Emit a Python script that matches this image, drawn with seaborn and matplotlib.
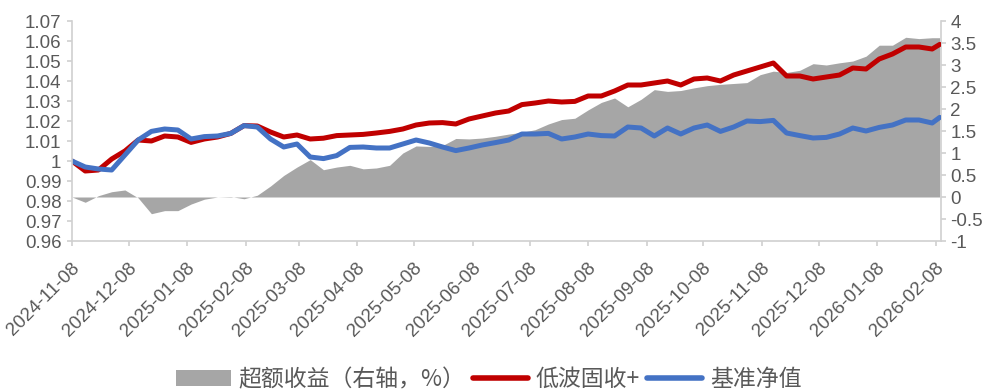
import matplotlib
matplotlib.use("Agg")
import matplotlib.pyplot as plt
import matplotlib.dates as mdates
from matplotlib.patches import Patch
from matplotlib.lines import Line2D
from matplotlib.ticker import FuncFormatter, MultipleLocator
from matplotlib.transforms import ScaledTranslation
import seaborn as sns
import pandas as pd

# ---------------- data ----------------
dates = list(pd.date_range("2024-11-08", periods=66, freq="7D")) + [pd.Timestamp("2026-02-10")]

low_vol = [1.000, 0.995, 0.9955, 1.001, 1.005, 1.0105, 1.010, 1.0125, 1.012, 1.0093,
           1.011, 1.012, 1.0138, 1.0177, 1.0175, 1.0145, 1.012, 1.013, 1.011, 1.0114,
           1.0127, 1.013, 1.0133, 1.014, 1.0148, 1.016, 1.018, 1.019, 1.0192, 1.0185,
           1.021, 1.0225, 1.024, 1.025, 1.0282, 1.029, 1.030, 1.0295, 1.0298, 1.0325,
           1.0325, 1.035, 1.038, 1.038, 1.039, 1.040, 1.038, 1.041, 1.0415, 1.040,
           1.043, 1.045, 1.047, 1.049, 1.0425, 1.0425, 1.041, 1.042, 1.043, 1.0465,
           1.046, 1.051, 1.0535, 1.057, 1.057, 1.056, 1.0583]

benchmark = [1.000, 0.997, 0.996, 0.9955, 1.003, 1.0105, 1.0148, 1.016, 1.0155, 1.011,
             1.0122, 1.0125, 1.0138, 1.0177, 1.017, 1.011, 1.007, 1.0085, 1.002, 1.0012,
             1.0027, 1.0068, 1.007, 1.0065, 1.0065, 1.0085, 1.0105, 1.009, 1.007, 1.0052,
             1.0065, 1.008, 1.0092, 1.0105, 1.0135, 1.0135, 1.0138, 1.011, 1.012, 1.0135,
             1.0127, 1.0125, 1.017, 1.0165, 1.0125, 1.0165, 1.0135, 1.0165, 1.018, 1.0148,
             1.017, 1.020, 1.0197, 1.0203, 1.014, 1.0127, 1.0115, 1.0118, 1.0135, 1.0165,
             1.015, 1.0168, 1.018, 1.0205, 1.0205, 1.019, 1.0218]

excess = [0.0, -0.12, 0.03, 0.12, 0.16, -0.02, -0.38, -0.31, -0.31, -0.16,
          -0.05, 0.0, 0.01, -0.04, 0.04, 0.25, 0.49, 0.68, 0.85, 0.62,
          0.68, 0.72, 0.64, 0.66, 0.72, 1.0, 1.16, 1.15, 1.17, 1.33,
          1.32, 1.34, 1.38, 1.43, 1.47, 1.53, 1.66, 1.76, 1.79, 1.98,
          2.15, 2.25, 2.05, 2.22, 2.44, 2.4, 2.42, 2.48, 2.53, 2.56,
          2.58, 2.6, 2.78, 2.86, 2.83, 2.88, 3.03, 3.0, 3.05, 3.09,
          3.2, 3.45, 3.45, 3.63, 3.6, 3.62, 3.62]

tick_dates = ["2024-11-08", "2024-12-08", "2025-01-08", "2025-02-08", "2025-03-08",
              "2025-04-08", "2025-05-08", "2025-06-08", "2025-07-08", "2025-08-08",
              "2025-09-08", "2025-10-08", "2025-11-08", "2025-12-08", "2026-01-08",
              "2026-02-08"]

legend_labels = ["超额收益（右轴，%）", "低波固收+", "基准净值"]

df = pd.DataFrame({"date": dates, "low_vol": low_vol, "benchmark": benchmark, "excess": excess})

# ---------------- style ----------------
sns.set_style("white")
plt.rcParams["font.family"] = ["Liberation Sans", "DejaVu Sans"]

RED = "#C00000"
BLUE = "#4472C4"
GRAY = "#A6A6A6"
TXT = "#595959"
SPINE = "#D0D0D0"

fig = plt.figure(figsize=(9.85, 3.92), dpi=100)
ax = fig.add_axes([72 / 985, 1 - 241 / 392, (941 - 72) / 985, 220 / 392])
ax2 = ax.twinx()

# area on right axis
ax2.fill_between(df["date"], 0, df["excess"], color=GRAY, linewidth=0)
ax2.set_ylim(-1, 4)
ax2.yaxis.set_major_locator(MultipleLocator(0.5))

# lines on left axis
sns.lineplot(data=df, x="date", y="low_vol", ax=ax, color=RED, linewidth=3.6, legend=False)
sns.lineplot(data=df, x="date", y="benchmark", ax=ax, color=BLUE, linewidth=3.6, legend=False)
ax.set_ylim(0.96, 1.07)
ax.yaxis.set_major_locator(MultipleLocator(0.01))

ax.set_zorder(ax2.get_zorder() + 1)
ax.patch.set_visible(False)

ax.set_xlim(pd.Timestamp("2024-11-08"), pd.Timestamp("2026-02-10 16:00"))
ax.set_xticks(pd.to_datetime(tick_dates))
ax.xaxis.set_major_formatter(mdates.DateFormatter("%Y-%m-%d"))
ax.set_xlabel("")
ax.set_ylabel("")
ax2.set_ylabel("")

def fmt(v, pos):
    s = f"{v:.2f}".rstrip("0").rstrip(".")
    return "0" if s in ("-0", "") else s

ax.yaxis.set_major_formatter(FuncFormatter(fmt))
ax2.yaxis.set_major_formatter(FuncFormatter(fmt))

for a in (ax, ax2):
    for sp in a.spines.values():
        sp.set_color(SPINE)
        sp.set_linewidth(1.2)
    a.spines["top"].set_visible(False)
    a.tick_params(colors=SPINE, labelcolor=TXT, labelsize=13.5, length=3.6, width=1.2)

ax.spines["right"].set_visible(False)
ax2.spines["left"].set_visible(False)
ax2.spines["bottom"].set_visible(False)
ax.tick_params(axis="y", left=True, pad=4)
ax2.tick_params(axis="y", right=True, pad=3)
ax.tick_params(axis="x", bottom=True, pad=14)

offset = ScaledTranslation(0.05, 0, fig.dpi_scale_trans)
for lab in ax.get_xticklabels():
    lab.set_rotation(45)
    lab.set_ha("right")
    lab.set_va("center")
    lab.set_rotation_mode("anchor")
    lab.set_transform(lab.get_transform() + offset)

# legend
handles = [Patch(facecolor=GRAY, edgecolor="none"),
           Line2D([0], [0], color=RED, linewidth=4),
           Line2D([0], [0], color=BLUE, linewidth=4)]
fig.legend(handles, legend_labels, loc="center", bbox_to_anchor=(0.496, 0.032), ncol=3,
           frameon=False, handlelength=2.4, handletextpad=0.35, columnspacing=0.3,
           prop={"family": ["Noto Sans CJK SC", "DejaVu Sans"], "size": 16.5}, labelcolor=TXT)

fig.savefig("out.png", dpi=100)
